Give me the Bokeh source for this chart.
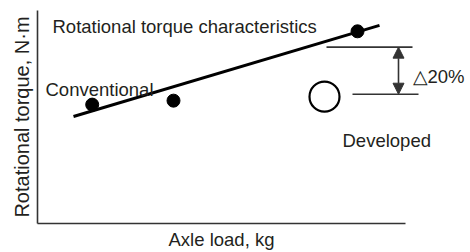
from bokeh.plotting import figure
from bokeh.models import Range1d, Arrow, NormalHead, FixedTicker
from bokeh.core.properties import value
from bokeh.embed import file_html
from bokeh.resources import INLINE

# ---- data (arbitrary units) ----
conv_load = [54.7, 136, 320]
conv_torque = [120, 124, 194]
trend_load = [36, 342]
trend_torque = [108, 200]
dev_load = [287]
dev_torque = [128]
upper_ref_load = [289, 375]
upper_ref_torque = [178, 178]
lower_ref_load = [315, 381]
lower_ref_torque = [130.5, 130.5]
arrow_load = 361
reduction_text = "\u25b320%"

FONT = "Liberation Sans"
TXT = "#231F20"
FS = "18.5px"

p = figure(width=470, height=252, output_backend="svg", toolbar_location=None,
           x_range=Range1d(0, 368), y_range=Range1d(0, 215),
           min_border_left=37, min_border_right=65, min_border_top=10,
           min_border_bottom=27, outline_line_color=None)
p.grid.visible = False

for ax in (p.xaxis[0], p.yaxis[0]):
    ax.ticker = FixedTicker(ticks=[])
    ax.major_tick_out = 0
    ax.major_tick_in = 0
    ax.minor_tick_out = 0
    ax.minor_tick_in = 0
    ax.major_tick_line_color = None
    ax.minor_tick_line_color = None
    ax.major_label_standoff = 0
    ax.axis_line_color = "#333333"
    ax.axis_line_width = 1.6
    ax.axis_label_text_font = FONT
    ax.axis_label_text_font_style = "normal"
    ax.axis_label_text_color = TXT
    ax.axis_label_standoff = 5

p.xaxis.axis_label = "Axle load, kg"
p.xaxis.axis_label_text_font_size = FS
p.yaxis.axis_label = "Rotational torque, N\u00b7m"
p.yaxis.axis_label_text_font_size = "20px"

# trend line and conventional points
p.line(trend_load, trend_torque, line_color="black", line_width=3)
p.scatter(conv_load, conv_torque, size=13, fill_color="black", line_color="black")

# developed point (open circle)
p.scatter(dev_load, dev_torque, size=30, fill_color=None, line_color="black", line_width=2.2)

# reference lines
r1 = p.line(upper_ref_load, upper_ref_torque, line_color="#333333", line_width=1.6)
r2 = p.line(lower_ref_load, lower_ref_torque, line_color="#333333", line_width=1.6)
r1.level = "annotation"
r2.level = "annotation"

arrow = Arrow(x_start=arrow_load, y_start=lower_ref_torque[0],
              x_end=arrow_load, y_end=upper_ref_torque[0],
              line_color="#333333", line_width=1.6,
              start=NormalHead(size=11, fill_color="#333333", line_color="#333333"),
              end=NormalHead(size=11, fill_color="#333333", line_color="#333333"))
p.add_layout(arrow)

def add_text(x, y, s):
    r = p.text(x=[x], y=[y], text=[s], text_font=value(FONT), text_font_size=FS,
               text_color=TXT, text_align="left", text_baseline="alphabetic")
    r.level = "annotation"
    return r

add_text(15, 199, "Rotational torque characteristics")
add_text(8, 135.7, "Conventional")
add_text(375, 148.3, reduction_text)
add_text(305, 84, "Developed")

open("out.html", "w").write(file_html(p, INLINE))
